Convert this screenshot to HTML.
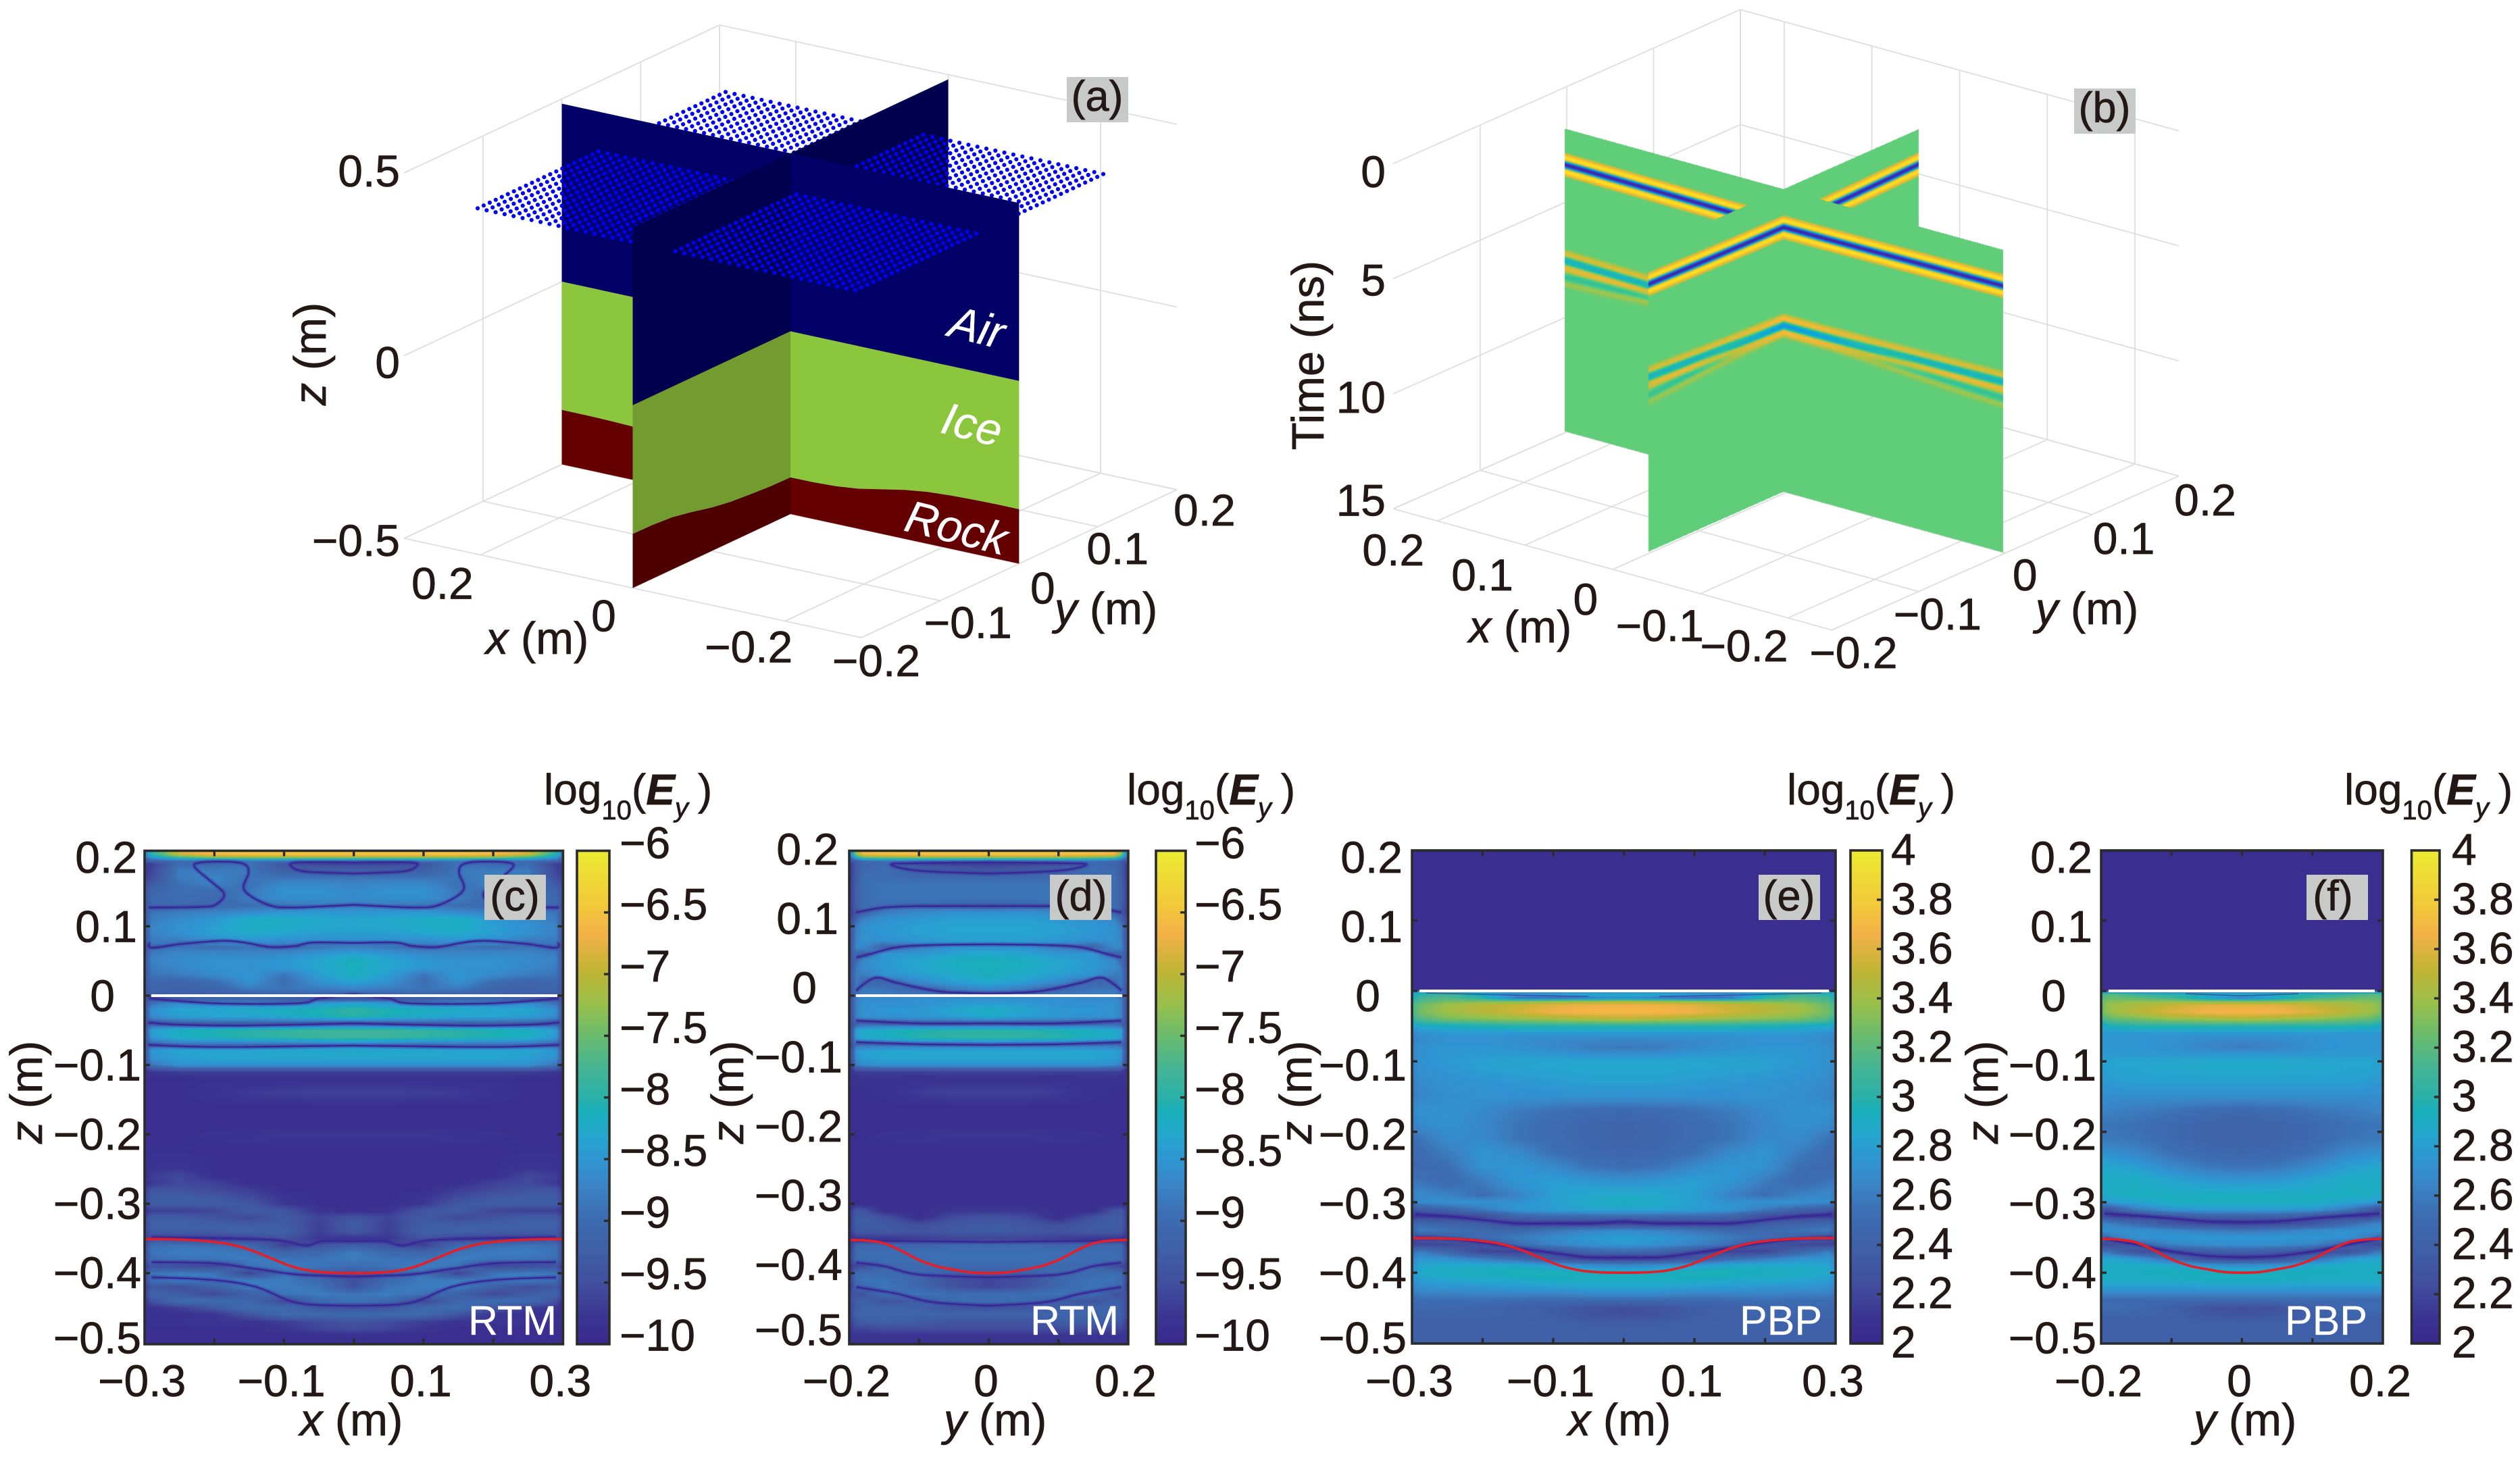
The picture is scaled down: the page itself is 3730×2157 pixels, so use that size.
<!DOCTYPE html>
<html lang="en">
<head>
<meta charset="utf-8">
<title>Radar imaging figure</title>
<style>
html,body{margin:0;padding:0;background:#fff;}
#stage{position:relative;width:3730px;height:2157px;overflow:hidden;background:#fff;}
#stage svg{position:absolute;left:0;top:0;}
#stage canvas{position:absolute;}
text{font-family:"Liberation Sans",Arial,sans-serif;fill:#231815;stroke:#231815;stroke-width:.7px;font-size:66px;}
.ax{font-size:67px;}
.pl{font-size:63px;text-anchor:middle;}
.wt{fill:#fff;stroke:#fff;stroke-width:.3px;font-size:61px;}
.mat{fill:#fff;stroke:#fff;stroke-width:.3px;font-size:67px;font-style:italic;}
.bt{font-size:64px;}
.sub{font-size:40px;}
i,.it{font-style:italic;}
</style>
</head>
<body>
<div id="stage">
<svg id="under" width="3730" height="2157" xmlns="http://www.w3.org/2000/svg">
  <g id="grid-a"></g>
  <g id="grid-b"></g>
</svg>
<canvas id="cv-b"></canvas>
<canvas id="cv-c"></canvas>
<canvas id="cv-d"></canvas>
<canvas id="cv-e"></canvas>
<canvas id="cv-f"></canvas>
<svg id="over" width="3730" height="2157" xmlns="http://www.w3.org/2000/svg">
  <defs id="defs"></defs>
  <g id="a"></g>
  <g>
    <rect x="1579" y="114" width="91" height="67" fill="#c8c9c9"/>
    <text class="pl" x="1624" y="164">(a)</text>
    <text class="mat" transform="translate(1401,497) rotate(14)">Air</text>
    <text class="mat" transform="translate(1390,640) rotate(14)">Ice</text>
    <text class="mat" transform="translate(1336,785) rotate(14)">Rock</text>
    <text class="ax" text-anchor="middle" transform="translate(482,524) rotate(-90)"><tspan class="it">z</tspan> (m)</text>
    <text class="ax" text-anchor="middle" x="795" y="968"><tspan class="it">x</tspan> (m)</text>
    <text class="ax" text-anchor="middle" x="1637" y="924"><tspan class="it">y</tspan> (m)</text>
  </g>
  <g id="b">
    <rect x="3070" y="131" width="91" height="67" fill="#c8c9c9"/>
    <text class="pl" x="3115" y="181">(b)</text>
    <text class="ax" text-anchor="middle" transform="translate(1959,526) rotate(-90)">Time (ns)</text>
    <text class="ax" text-anchor="middle" x="2250" y="951"><tspan class="it">x</tspan> (m)</text>
    <text class="ax" text-anchor="middle" x="3089" y="924"><tspan class="it">y</tspan> (m)</text>
  </g>
  <g id="c"></g>
  <g id="d"></g>
  <g id="e"></g>
  <g id="f"></g>
  <g>
    <rect x="717" y="1295" width="91" height="67" fill="#c8c9c9"/>
    <text class="pl" x="762" y="1348">(c)</text>
    <text class="wt" x="693" y="1976">RTM</text>
    <text class="ax" text-anchor="middle" transform="translate(62,1617) rotate(-90)"><tspan class="it">z</tspan> (m)</text>
    <text class="ax" text-anchor="middle" x="520" y="2125"><tspan class="it">x</tspan> (m)</text>
    <text class="bt" x="805" y="1191">log<tspan class="sub" dy="22">10</tspan><tspan dy="-22">(</tspan><tspan font-weight="bold" font-style="italic">E</tspan><tspan class="sub it" dy="18">y</tspan><tspan dy="-18" dx="14">)</tspan></text>
  </g>
  <g>
    <rect x="1554" y="1295" width="91" height="67" fill="#c8c9c9"/>
    <text class="pl" x="1600" y="1348">(d)</text>
    <text class="wt" x="1525" y="1976">RTM</text>
    <text class="ax" text-anchor="middle" transform="translate(1100,1617) rotate(-90)"><tspan class="it">z</tspan> (m)</text>
    <text class="ax" text-anchor="middle" x="1473" y="2125"><tspan class="it">y</tspan> (m)</text>
    <text class="bt" x="1668" y="1191">log<tspan class="sub" dy="22">10</tspan><tspan dy="-22">(</tspan><tspan font-weight="bold" font-style="italic">E</tspan><tspan class="sub it" dy="18">y</tspan><tspan dy="-18" dx="14">)</tspan></text>
  </g>
  <g>
    <rect x="2603" y="1295" width="91" height="67" fill="#c8c9c9"/>
    <text class="pl" x="2648" y="1348">(e)</text>
    <text class="wt" x="2575" y="1976">PBP</text>
    <text class="ax" text-anchor="middle" transform="translate(1941,1617) rotate(-90)"><tspan class="it">z</tspan> (m)</text>
    <text class="ax" text-anchor="middle" x="2397" y="2125"><tspan class="it">x</tspan> (m)</text>
    <text class="bt" x="2645" y="1191">log<tspan class="sub" dy="22">10</tspan><tspan dy="-22">(</tspan><tspan font-weight="bold" font-style="italic">E</tspan><tspan class="sub it" dy="18">y</tspan><tspan dy="-18" dx="14">)</tspan></text>
  </g>
  <g>
    <rect x="3414" y="1295" width="91" height="67" fill="#c8c9c9"/>
    <text class="pl" x="3453" y="1348">(f)</text>
    <text class="wt" x="3382" y="1976">PBP</text>
    <text class="ax" text-anchor="middle" transform="translate(2957,1617) rotate(-90)"><tspan class="it">z</tspan> (m)</text>
    <text class="ax" text-anchor="middle" x="3323" y="2125"><tspan class="it">y</tspan> (m)</text>
    <text class="bt" x="3470" y="1191">log<tspan class="sub" dy="22">10</tspan><tspan dy="-22">(</tspan><tspan font-weight="bold" font-style="italic">E</tspan><tspan class="sub it" dy="18">y</tspan><tspan dy="-18" dx="14">)</tspan></text>
  </g>
</svg>
</div>
<script>
/* ---------- shared colour scale ---------- */
const colorStops = [0,.055,.12,.18,.265,.32,.373,.42,.47,.5,.556,.62,.69,.76,.83,.89,.99,1];
const colorHexes = ['#39288e','#3b3592','#414e9e','#3f5da6','#3c6eb3','#3a84c6','#2f95d2','#25a5cf','#18aebb','#2ab0a8','#44b596','#66bb70','#9ac04a','#c3b435','#f3b148','#f2c93a','#ece832','#ece832'];
const ampStops = [-100,-75,-45,-15,0,15,40,70,100];
const ampHexes = ['#3f1fa0','#2a62d6','#0fa8dc','#26c0a0','#60cd78','#b9c23c','#efb83a','#fbd024','#fce620'];

/* ---------- rock interface (metres) ---------- */
const rockX = [0,.03,.06,.09,.12,.15,.18,.21,.24,.27,.3];
const rockXZ = [-.4,-.3995,-.397,-.39,-.378,-.366,-.358,-.354,-.352,-.351,-.351];
const rockY = [0,.025,.05,.075,.1,.125,.15,.175,.2];
const rockYZ = [-.4,-.399,-.395,-.39,-.381,-.368,-.357,-.353,-.352];

/* ---------- heatmap rows / columns (field values: percent of colour scale) ---------- */
const zRowsRtm = [.21,.204,.2,.197,.194,.19,.18,.17,.16,.15,.14,.13,.12,.11,.1,.09,.08,.07,.06,.05,.04,.03,.02,.01,.003,-.005,-.01,-.02,-.03,-.04,-.05,-.06,-.07,-.08,-.09,-.1,-.105,-.11,-.12,-.14,-.16,-.19,-.2,-.22,-.25,-.26,-.27,-.28,-.29,-.3,-.31,-.32,-.33,-.34,-.35,-.36,-.37,-.38,-.39,-.4,-.41,-.42,-.43,-.44,-.45,-.46,-.47,-.48,-.49,-.5];
const zRowsPbp = [.21,.001,-.001,-.005,-.01,-.015,-.02,-.03,-.04,-.05,-.06,-.07,-.08,-.09,-.1,-.11,-.13,-.15,-.17,-.19,-.21,-.23,-.25,-.27,-.29,-.3,-.31,-.32,-.33,-.34,-.35,-.36,-.37,-.38,-.39,-.4,-.41,-.42,-.43,-.44,-.45,-.46,-.47,-.5];
const xCols = [0,.05,.1,.15,.2,.25,.29,.3];
const yCols = [0,.05,.1,.15,.18,.19,.195,.2];

const fieldC = [
[87,87,87,87,86,80,50,30],[88,88,88,88,86,78,50,28],[72,72,72,72,70,60,42,25],[50,50,50,50,48,42,30,20],[28,28,28,28,28,26,22,15],
[10,10,15,28,25,25,8,8],[20,20,20,29,30,30,10,6],[28,28,28,28,32,30,12,8],[32,34,34,27,31,27,18,12],[34,36,36,29,25,26,22,14],
[34,35,35,30,24,25,24,14],[30,30,28,26,24,24,22,12],[38,38,38,34,32,30,28,15],[42,43,45,46,38,34,30,15],[42,43,45,46,40,36,32,16],
[40,40,42,44,40,36,32,16],[36,36,36,38,36,30,30,14],[30,28,26,28,26,28,26,10],[42,38,34,33,34,33,30,14],[47,42,38,36,36,34,32,15],
[47,42,38,36,36,33,30,14],[46,40,28,38,34,30,28,14],[42,36,26,36,26,22,24,14],[32,30,28,30,22,20,22,14],[24,24,24,22,20,20,20,12],
[14,14,18,22,22,18,16,10],[40,36,30,34,34,34,26,12],[52,48,46,44,42,42,36,14],[50,47,44,42,42,40,34,14],[22,22,22,22,22,22,20,10],
[54,54,52,50,48,46,40,14],[54,54,52,50,48,46,38,14],[34,30,28,28,28,28,24,10],[44,43,43,42,42,42,38,14],[42,42,42,42,42,40,36,14],
[36,36,36,36,36,36,28,10],[22,22,22,22,22,22,16,7],[8,8,8,8,8,8,6,4],[3,3,3,3,3,3,3,3],[9,9,8,7,5,3,3,3],
[3,3,3,3,3,3,3,3],[3,3,3,3,3,3,3,3],[6,6,6,5,4,3,3,3],[3,3,3,3,3,3,3,3],[3,3,3,3,3,6,5,3],
[3,3,3,3,3,11,8,3],[3,3,3,3,9,11,6,3],[3,3,3,8,11,14,14,6],[3,3,5,11,16,18,18,8],[3,3,6,16,18,18,18,8],
[3,5,15,18,10,8,8,4],[14,10,17,10,14,18,18,8],[18,8,18,18,20,20,20,8],[16,8,20,20,18,18,18,8],[5,6,14,10,8,10,12,6],
[20,14,8,24,26,28,26,10],[30,24,22,28,30,30,28,10],[30,28,28,30,28,28,26,8],[26,28,30,28,10,12,14,6],[16,22,28,8,28,30,28,8],
[12,24,30,30,30,32,26,8],[14,28,30,31,20,12,16,6],[28,30,28,20,10,18,22,6],[28,25,10,22,26,26,14,4],[14,16,24,26,16,8,5,3],
[25,24,24,14,5,4,3,3],[14,12,8,5,6,5,4,3],[12,10,5,3,3,3,3,3],[4,3,3,3,3,3,3,3],[3,3,3,3,3,3,3,3]];

const fieldD = [
[87,87,87,87,86,70,45,25],[88,88,88,87,84,68,42,25],[72,72,72,70,66,50,35,20],[50,50,50,48,44,34,24,14],[28,28,28,28,25,20,15,10],
[8,10,14,24,22,18,10,6],[16,18,20,26,24,18,10,6],[24,24,24,26,26,18,10,6],[28,28,28,28,26,20,12,6],[28,28,28,28,26,20,12,6],
[28,28,28,28,26,20,12,6],[20,22,24,26,26,20,12,6],[36,36,34,30,22,14,10,6],[40,40,38,36,32,24,14,8],[42,42,40,38,36,30,20,8],
[42,42,40,38,36,32,20,8],[40,40,38,36,36,32,20,8],[36,36,30,22,34,34,22,8],[44,42,38,38,22,24,20,8],[47,46,42,38,34,24,18,8],
[47,46,42,38,34,30,20,8],[46,44,40,36,30,30,20,8],[44,40,34,22,24,30,20,8],[34,30,22,28,28,28,18,8],[24,26,28,30,30,26,18,8],
[36,36,36,34,34,30,18,8],[38,38,36,36,36,32,18,8],[46,42,38,38,36,32,18,8],[44,40,38,36,36,32,18,8],[22,22,22,22,22,20,14,8],
[50,50,48,46,44,40,20,8],[52,52,50,46,44,40,20,8],[30,28,28,26,26,24,14,8],[42,42,42,42,40,38,20,8],[42,42,42,42,40,36,18,8],
[36,36,36,36,34,30,14,6],[22,22,22,22,20,18,8,5],[9,9,8,8,8,7,5,4],[4,4,4,4,4,4,4,4],[9,9,7,4,3,3,3,3],
[3,3,3,3,3,3,3,3],[3,3,3,3,3,3,3,3],[6,6,5,4,3,3,3,3],[3,3,3,3,3,3,3,3],[3,3,3,3,3,3,3,3],
[3,3,3,3,3,3,3,3],[3,3,3,3,3,3,3,3],[3,3,3,3,3,3,3,3],[3,3,3,3,3,3,3,3],[3,3,3,3,3,3,3,3],
[6,6,3,3,14,16,10,4],[14,12,3,14,18,18,12,4],[17,16,12,17,18,18,12,4],[17,16,14,16,16,16,10,4],[10,10,8,6,6,6,4,4],
[24,24,22,22,22,22,12,4],[27,27,26,26,26,24,14,5],[27,27,26,26,26,24,14,5],[24,24,24,24,12,10,8,4],[18,20,24,24,26,24,14,4],
[10,12,22,28,28,26,14,4],[10,14,24,28,24,22,12,4],[26,26,28,26,14,14,14,6],[26,25,18,14,20,18,14,8],[14,14,20,22,22,18,14,8],
[22,22,22,22,22,20,14,8],[14,14,18,20,18,16,10,6],[12,12,12,12,10,10,8,5],[5,5,5,5,5,5,5,4],[4,4,4,4,4,4,4,4]];

const fieldE = [
[3,3,3,3,3,3,3,3],[3,3,3,3,3,3,3,3],[30,30,30,30,40,50,40,30],[45,45,40,38,46,55,50,40],[35,30,25,28,50,58,55,45],
[72,70,68,66,65,64,58,50],[82,82,80,76,74,70,62,55],[85,85,83,78,74,70,64,56],[74,72,70,68,66,64,58,50],[50,50,50,50,48,46,44,38],
[38,38,38,38,38,38,36,32],[33,33,34,35,36,36,34,30],[29,30,34,36,38,38,36,32],[36,36,38,39,39,38,36,32],[42,42,42,41,40,39,36,32],
[43,43,42,41,40,38,36,32],[40,40,39,38,37,36,34,30],[36,36,36,36,36,35,33,29],[24,25,27,30,34,36,36,33],[22,23,25,28,33,36,34,30],
[22,23,25,28,34,34,28,26],[23,24,27,34,37,30,25,24],[26,28,34,38,36,26,24,24],[36,38,40,38,30,24,28,28],[44,43,40,32,26,32,34,30],
[46,44,40,36,36,36,34,28],[42,42,40,38,30,22,18,12],[25,25,25,22,12,8,8,6],[8,8,10,10,18,20,24,18],[34,32,28,24,24,28,30,22],
[40,38,34,30,25,20,14,10],[38,36,32,26,14,10,10,8],[25,22,15,8,10,22,30,24],[8,10,14,24,30,36,38,32],[34,36,40,44,44,44,42,34],
[46,46,48,48,46,46,44,36],[46,46,46,44,44,42,40,34],[42,42,40,40,38,38,36,32],[34,34,32,32,32,31,31,28],[24,24,24,25,26,26,26,24],
[12,14,18,20,22,23,24,22],[12,14,18,20,22,22,22,22],[18,18,20,20,20,20,20,20],[20,20,20,20,20,20,20,20]];

const fieldF = [
[3,3,3,3,3,3,3,3],[3,3,3,3,3,3,3,3],[25,25,25,25,30,30,30,30],[50,50,50,55,60,60,58,55],[30,42,55,60,62,62,60,58],
[66,66,68,68,66,66,64,60],[80,80,76,72,70,68,66,60],[85,84,80,74,70,68,66,60],[72,70,68,64,62,60,58,54],[50,50,50,50,48,46,44,42],
[38,38,38,38,38,38,38,38],[33,34,36,38,38,38,38,36],[30,32,36,38,38,38,38,36],[38,38,38,38,38,38,38,38],[43,43,42,42,42,41,41,40],
[44,44,43,42,42,41,41,40],[40,40,40,40,39,38,38,38],[35,35,35,35,35,35,35,35],[24,25,28,30,31,32,32,32],[21,22,24,27,28,28,28,28],
[21,22,24,28,29,29,29,29],[23,24,27,33,35,36,36,36],[28,29,34,40,42,43,43,42],[38,39,42,46,46,46,46,44],[46,46,46,46,46,44,44,42],
[46,46,46,42,40,38,38,36],[40,40,38,30,20,14,14,14],[20,20,16,10,8,12,14,14],[8,10,14,24,30,32,32,32],[28,30,34,36,36,36,36,36],
[38,38,38,36,30,26,24,24],[36,35,32,22,12,10,10,10],[20,18,12,12,22,28,28,28],[10,12,24,38,42,42,42,42],[36,38,44,46,46,46,46,46],
[47,47,47,46,46,46,46,46],[46,46,45,45,45,45,45,45],[40,40,40,40,40,40,40,40],[32,32,32,32,32,32,32,32],[24,24,24,24,24,24,24,24],
[12,14,20,24,25,25,25,25],[14,16,20,22,22,22,22,22],[19,19,19,19,19,19,19,19],[20,20,20,20,20,20,20,20]];

/* ---------- dark null contours: right half, mirrored about the centre ---------- */
const nullLinesC = [
 {u:[0,.08,.09,.07,0],z:[.192,.192,.187,.179,.176]},
 {u:[.294,.217,.197,.186,.204,.228,.22,.178,.156,.151,.157,.123,.088,0],z:[.127,.128,.132,.1465,.164,.185,.192,.193,.189,.177,.152,.131,.127,.131]},
 {u:[.294,.289,.248,.19,.157,.119,.085,.059,0],z:[.0765,.069,.0745,.079,.0765,.07,.0715,.0765,.076]},
 {u:[.294,.2,.08,.05,0],z:[-.004,-.011,-.011,-.004,.002]},
 {u:[0,.15,.25,.295],z:[-.04,-.043,-.042,-.0387]},
 {u:[0,.2,.295],z:[-.072,-.074,-.071]},
 {u:[0,.045,.07,.12,.29],z:[-.354,-.354,-.36,-.352,-.348]},
 {u:[0,.08,.14,.2,.29],z:[-.405,-.402,-.394,-.386,-.384]},
 {u:[0,.08,.14,.2,.29],z:[-.447,-.443,-.42,-.41,-.406]}
];
const nullLinesD = [
 {u:[0,.1,.14,.1,0],z:[.192,.191,.189,.18,.176]},
 {u:[0,.1,.15,.18,.19],z:[.129,.129,.127,.122,.12]},
 {u:[0,.08,.13,.17,.19],z:[.074,.073,.07,.06,.055]},
 {u:[0,.07,.13,.16,.18,.19],z:[.003,.006,.018,.026,.016,.007]},
 {u:[0,.1,.19],z:[-.04,-.04,-.036]},
 {u:[0,.1,.19],z:[-.071,-.07,-.067]},
 {u:[0,.19],z:[-.355,-.353]},
 {u:[0,.1,.15,.19],z:[-.406,-.402,-.39,-.385]},
 {u:[0,.08,.13,.19],z:[-.447,-.442,-.43,-.42]}
];
const nullLinesE = [
 {u:[.05,.15,.28],z:[-.008,-.006,-.003],thin:true},
 {u:[0,.05,.1,.15,.2,.25,.295],z:[-.327,-.33,-.33,-.33,-.325,-.32,-.317]},
 {u:[0,.05,.1,.15,.2,.25,.295],z:[-.378,-.378,-.372,-.365,-.357,-.352,-.35]}
];
const nullLinesF = [
 {u:[0,.08],z:[-.007,-.004],thin:true},
 {u:[0,.05,.1,.15,.195],z:[-.328,-.327,-.323,-.319,-.316]},
 {u:[0,.05,.1,.15,.195],z:[-.378,-.376,-.37,-.36,-.352]}
];

/* ---------- tick values and labels ---------- */
const zTicks = [.2,.1,0,-.1,-.2,-.3,-.4,-.5];
const zTickLabels = ['0.2','0.1','0','\u22120.1','\u22120.2','\u22120.3','\u22120.4','\u22120.5'];
const xTicksWide = [-.2,-.1,0,.1,.2];
const xLabelValuesWide = [-.3,-.1,.1,.3];
const xLabelsWide = ['\u22120.3','\u22120.1','0.1','0.3'];
const xTicksNarrow = [-.1,0,.1];
const xLabelValuesNarrow = [-.2,0,.2];
const xLabelsNarrow = ['\u22120.2','0','0.2'];
const cbarRtmValues = [-6,-6.5,-7,-7.5,-8,-8.5,-9,-9.5,-10];
const cbarRtmLabels = ['\u22126','\u22126.5','\u22127','\u22127.5','\u22128','\u22128.5','\u22129','\u22129.5','\u221210'];
const cbarPbpValues = [4,3.8,3.6,3.4,3.2,3,2.8,2.6,2.4,2.2,2];
const cbarPbpLabels = ['4','3.8','3.6','3.4','3.2','3','2.8','2.6','2.4','2.2','2'];

/* ---------- panel (a) ---------- */
const aXTicks = [.3,.2,0,-.2,-.3];
const aYTicks = [-.2,-.1,0,.1,.2];
const aZTicks = [-.5,0,.5];
const aXLabelValues = [.2,0,-.2];
const aXLabels = ['0.2','0','\u22120.2'];
const aYLabelValues = [-.2,-.1,0,.1,.2];
const aYLabels = ['\u22120.2','\u22120.1','0','0.1','0.2'];
const aZLabelValues = [.5,0,-.5];
const aZLabels = ['0.5','0','\u22120.5'];
const sliceTopZ = .487;
const interfaceAirIceZ = 0;
const antennaHalfX = .2478, antennaHalfY = .1572, antennaZ = .3835, antennaNx = 43, antennaNy = 42;

/* ---------- panel (b) ---------- */
const bXTicks = [.25,.2,.1,0,-.1,-.2,-.25];
const bYTicks = [-.2,-.1,0,.1,.2];
const bTTicks = [0,5,10,15];
const bXLabelValues = [.2,.1,0,-.1,-.2];
const bXLabels = ['0.2','0.1','0','\u22120.1','\u22120.2'];
const bYLabelValues = [-.2,-.1,0,.1,.2];
const bYLabels = ['\u22120.2','\u22120.1','0','0.1','0.2'];
const bTLabelValues = [0,5,10,15];
const bTLabels = ['0','5','10','15'];
const waveletLag = [-.55,-.42,-.32,-.25,-.19,-.13,-.07,0,.07,.13,.19,.25,.32,.42,.55];
const waveletAmp = [0,45,95,80,20,-45,-85,-100,-85,-45,20,80,95,45,0];
const offsetX = [0,.05,.1,.15,.2,.25];
const offsetY = [0,.04,.08,.12,.156];
const directTx = [3.51,3.5,3.48,3.46,3.44,3.42];
const directTy = [3.51,3.49,3.46,3.42,3.38];
const surfaceTx = [7.75,7.74,7.71,7.67,7.63,7.59];
const surfaceTy = [7.75,7.68,7.6,7.5,7.41];
const rockTx = [7.85,7.88,7.98,8.1,8.22,8.3];
const rockTy = [7.85,7.88,7.98,8.1,8.2];
const surfaceGainX = [.42,.4,.36,.33,.31,.3];
const surfaceGainY = [.42,.38,.34,.31,.28];
const rockGainX = [.16,.14,.12,.12,.12,.11];
const rockGainY = [.16,.14,.12,.12,.1];

/* ---------- helpers ---------- */
const NS = 'http://www.w3.org/2000/svg';
function hexRgb(h){return [parseInt(h.slice(1,3),16),parseInt(h.slice(3,5),16),parseInt(h.slice(5,7),16)];}
function buildLut(stops,hexes,lo,hi,n){
  const rgb = hexes.map(hexRgb), lut = new Uint8ClampedArray(3*(n+1));
  for(let i=0;i<=n;i++){
    const v = lo+(hi-lo)*i/n; let k=0;
    while(k<stops.length-2 && v>stops[k+1]) k++;
    const f = Math.max(0,Math.min(1,(v-stops[k])/(stops[k+1]-stops[k])));
    for(let c=0;c<3;c++) lut[3*i+c]=rgb[k][c]+(rgb[k+1][c]-rgb[k][c])*f;
  }
  return lut;
}
const LUT = buildLut(colorStops,colorHexes,0,1,500);
const AMP_LUT = buildLut(ampStops,ampHexes,-100,100,400);
function lerpArr(xs,ys,v){
  if(v<=xs[0]) return ys[0];
  const n=xs.length-1;
  if(v>=xs[n]) return ys[n];
  let k=0; while(v>xs[k+1]) k++;
  return ys[k]+(ys[k+1]-ys[k])*(v-xs[k])/(xs[k+1]-xs[k]);
}
function add(tag,parent){const el=document.createElementNS(NS,tag);parent.appendChild(el);return el;}
function set(el,o){for(const k in o) el.setAttribute(k,o[k]);return el;}
function smooth(pts){
  if(pts.length<3) return 'M'+pts.map(p=>p[0].toFixed(1)+' '+p[1].toFixed(1)).join('L');
  let d='M'+pts[0][0].toFixed(1)+' '+pts[0][1].toFixed(1);
  for(let i=0;i<pts.length-1;i++){
    const p0=pts[Math.max(0,i-1)],p1=pts[i],p2=pts[i+1],p3=pts[Math.min(pts.length-1,i+2)];
    d+='C'+(p1[0]+(p2[0]-p0[0])/6).toFixed(1)+' '+(p1[1]+(p2[1]-p0[1])/6).toFixed(1)+' '+
           (p2[0]-(p3[0]-p1[0])/6).toFixed(1)+' '+(p2[1]-(p3[1]-p1[1])/6).toFixed(1)+' '+
           p2[0].toFixed(1)+' '+p2[1].toFixed(1);
  }
  return d;
}
function placeLabel(parent,label,x,yCenter,anchor){
  const el = add('text',parent);
  set(el,{x:x.toFixed(1),y:(yCenter+23).toFixed(1),'text-anchor':anchor});
  el.textContent = label;
  return el;
}

/* ---------- 2-D heat panels ---------- */
function sizeCanvas(id,L,T,w,h){
  const cv=document.getElementById(id);
  cv.width=w;cv.height=h;cv.style.left=L+'px';cv.style.top=T+'px';
  return cv;
}
function paintField(p,cols,rows,field){
  const L=Math.round(p.L),T=Math.round(p.T),w=Math.round(p.R)-L,h=Math.round(p.B)-T;
  const cv=sizeCanvas('cv-'+p.id,L,T,w,h),ctx=cv.getContext('2d'),img=ctx.createImageData(w,h),D=img.data;
  const rowIdx=new Int32Array(h),rowF=new Float32Array(h),colIdx=new Int32Array(w),colF=new Float32Array(w);
  for(let j=0;j<h;j++){
    const z=p.zInv(T+j+.5);let k=0;
    while(k<rows.length-2 && z<rows[k+1]) k++;
    rowIdx[j]=k;rowF[j]=Math.max(0,Math.min(1,(rows[k]-z)/(rows[k]-rows[k+1])));
  }
  for(let i=0;i<w;i++){
    const u=Math.abs(p.xInv(L+i+.5));let k=0;
    while(k<cols.length-2 && u>cols[k+1]) k++;
    colIdx[i]=k;colF[i]=Math.max(0,Math.min(1,(u-cols[k])/(cols[k+1]-cols[k])));
  }
  for(let j=0;j<h;j++){
    const r0=field[rowIdx[j]],r1=field[rowIdx[j]+1],fr=rowF[j];
    for(let i=0;i<w;i++){
      const c=colIdx[i],fc=colF[i];
      const top=r0[c]+(r0[c+1]-r0[c])*fc,bot=r1[c]+(r1[c+1]-r1[c])*fc;
      const t=Math.max(0,Math.min(500,Math.round((top+(bot-top)*fr)*5)));
      const o=4*(j*w+i);
      D[o]=LUT[3*t];D[o+1]=LUT[3*t+1];D[o+2]=LUT[3*t+2];D[o+3]=255;
    }
  }
  ctx.putImageData(img,0,0);
}
let gradCount=0;
function heatPanel(p){
  const g=document.getElementById(p.id);
  paintField(p,p.cols,p.rows,p.field);

  /* null contours, mirrored */
  p.nulls.forEach(n=>{
    [1,-1].forEach(sign=>{
      const pts=n.u.map((u,i)=>[p.xS(sign*u),p.zS(n.z[i])]);
      if(!n.thin){
        const halo=add('path',g);
        
        
        set(halo,{d:smooth(pts),fill:'none',stroke:'#39288e','stroke-opacity':.28,'stroke-width':p.nullHalo});
      }
      const core=add('path',g);
      
      
      set(core,{d:smooth(pts),fill:'none',stroke:'#38289a','stroke-opacity':n.thin?.6:1,'stroke-width':n.thin?1.6:p.nullCore});
    });
  });

  /* surface line */
  const wl=add('line',g);
  
  
  set(wl,{x1:p.white[0],x2:p.white[1],y1:p.zS(0),y2:p.zS(0),stroke:'#fff','stroke-width':4});

  /* rock line */
  const pts=[];
  for(let i=p.rockU.length-1;i>0;i--) pts.push([p.xS(-p.rockU[i]),p.zS(p.rockZ[i])]);
  for(let i=0;i<p.rockU.length;i++) pts.push([p.xS(p.rockU[i]),p.zS(p.rockZ[i])]);
  const rl=add('path',g);
  
  
  set(rl,{d:smooth(pts),fill:'none',stroke:'#e61e25','stroke-width':3.6});

  /* frame */
  const fr=add('rect',g);
  
  
  set(fr,{x:p.L,y:p.T,width:p.R-p.L,height:p.B-p.T,fill:'none',stroke:'#2b2b2b','stroke-width':3.6});

  /* x ticks */
  p.xTicks.forEach(v=>{
    [[p.T,p.T+8],[p.B,p.B-8]].forEach(e=>{
      const t=add('line',g);
      
      
      set(t,{x1:p.xS(v),x2:p.xS(v),y1:e[0],y2:e[1],stroke:'#2b2b2b','stroke-width':3.4});
    });
  });
  p.xLabelValues.forEach((v,i)=>{
    const t=placeLabel(g,p.xLabels[i],p.xS(v)-4,2044,'middle');
    
    
  });

  /* z ticks */
  zTicks.forEach((v,i)=>{
    if(v>-.5 && v<.2 || (p.tickTop && v===.2)){
      [[p.L,p.L+8],[p.R,p.R-8]].forEach(e=>{
        const t=add('line',g);
        
        
        set(t,{x1:e[0],x2:e[1],y1:p.zS(v),y2:p.zS(v),stroke:'#2b2b2b','stroke-width':3.4});
      });
    }
    const lab=zTickLabels[i];
    const right=p.labelRight+(lab==='0'?p.zeroNudge:(lab[0]==='\u2212'?0:-6));
    const yc=1120+(p.labelTop+(.2-v)*1550)/1.512-(v===-.5?6:0);
    const t=placeLabel(g,lab,right,yc,'end');
    
    
  });

  /* colour bar */
  const gid='cbar-grad-'+(gradCount++);
  const lg=add('linearGradient',document.getElementById('defs'));
  set(lg,{id:gid,x1:0,y1:1,x2:0,y2:0});
  colorStops.forEach((s,i)=>{
    const st=add('stop',lg);
    set(st,{offset:s,'stop-color':colorHexes[i]});
  });
  const cb=add('rect',g);
  
  
  set(cb,{x:p.cbL,y:p.T,width:p.cbR-p.cbL,height:p.B-p.T,fill:'url(#'+gid+')',stroke:'#2b2b2b','stroke-width':3.6});
  const bs=p.cbValues, top=bs[0], bot=bs[bs.length-1];
  bs.forEach((v,i)=>{
    const y=p.T+(top-v)/(top-bot)*(p.B-p.T);
    if(i>0 && i<bs.length-1){
      const t=add('line',g);
      
      
      set(t,{x1:p.cbR,x2:p.cbR-8,y1:y,y2:y,stroke:'#2b2b2b','stroke-width':3.4});
    }
    const yc=p.cbLabelTop+(top-v)/(top-bot)*p.cbLabelSpan;
    const l=placeLabel(g,p.cbLabels[i],p.cbLabelLeft,yc,'start');
    
    
  });
}
function makePanel(o){
  o.xS=u=>o.cx+u*o.xs;
  o.xInv=px=>(px-o.cx)/o.xs;
  o.zS=z=>o.z0-z*o.zs;
  o.zInv=py=>(o.z0-py)/o.zs;
  return o;
}
heatPanel(makePanel({id:'c',L:214,R:833.4,T:1259.5,B:1990,cx:523.7,xs:1032,z0:1474,zs:1027,cols:xCols,rows:zRowsRtm,field:fieldC,nulls:nullLinesC,nullHalo:7,nullCore:2.6,white:[224,825],rockU:rockX,rockZ:rockXZ,xTicks:xTicksWide,xLabelValues:xLabelValuesWide,xLabels:xLabelsWide,labelRight:209,zeroNudge:-39,labelTop:225,cbL:854,cbR:902,cbValues:cbarRtmValues,cbLabels:cbarRtmLabels,cbLabelTop:1247.6,cbLabelSpan:729,cbLabelLeft:917,tickTop:false}));
heatPanel(makePanel({id:'d',L:1257,R:1670,T:1259.5,B:1990,cx:1463.5,xs:1032.5,z0:1474,zs:1027,cols:yCols,rows:zRowsRtm,field:fieldD,nulls:nullLinesD,nullHalo:7,nullCore:2.6,white:[1267,1661],rockU:rockY,rockZ:rockYZ,xTicks:xTicksNarrow,xLabelValues:xLabelValuesNarrow,xLabels:xLabelsNarrow,labelRight:1247,zeroNudge:-38,labelTop:207,cbL:1711,cbR:1755,cbValues:cbarRtmValues,cbLabels:cbarRtmLabels,cbLabelTop:1247.6,cbLabelSpan:729,cbLabelLeft:1768,tickTop:false}));
heatPanel(makePanel({id:'e',L:2090,R:2717,T:1259,B:1989,cx:2403.5,xs:1045,z0:1467,zs:1043,cols:xCols,rows:zRowsPbp,field:fieldE,nulls:nullLinesE,nullHalo:8,nullCore:3,white:[2101,2707],rockU:rockX,rockZ:rockXZ,xTicks:xTicksWide,xLabelValues:xLabelValuesWide,xLabels:xLabelsWide,labelRight:2082,zeroNudge:-39,labelTop:225,cbL:2739,cbR:2786,cbValues:cbarPbpValues,cbLabels:cbarPbpLabels,cbLabelTop:1257.6,cbLabelSpan:729,cbLabelLeft:2799,tickTop:false}));
heatPanel(makePanel({id:'f',L:3110,R:3527,T:1259,B:1989,cx:3318.5,xs:1042.5,z0:1467,zs:1043,cols:yCols,rows:zRowsPbp,field:fieldF,nulls:nullLinesF,nullHalo:8,nullCore:3,white:[3121,3515],rockU:rockY,rockZ:rockYZ,xTicks:xTicksNarrow,xLabelValues:xLabelValuesNarrow,xLabels:xLabelsNarrow,labelRight:3103,zeroNudge:-45,labelTop:225,cbL:3569.5,cbR:3611,cbValues:cbarPbpValues,cbLabels:cbarPbpLabels,cbLabelTop:1257.6,cbLabelSpan:729,cbLabelLeft:3629,tickTop:false}));

/* ---------- panel (a) 3-D ---------- */
const aP=(x,y,z)=>[1170-1128*x+1167.5*y,761-245*x-547.5*y-541*(z+.5)];
function gridLine(parent,a,b){
  const l=add('line',parent);
  
  
  set(l,{x1:a[0],y1:a[1],x2:b[0],y2:b[1],stroke:'#dedede','stroke-width':1.8});
}
(function(){
  const g=document.getElementById('grid-a');
  aXTicks.forEach(x=>{
    gridLine(g,aP(x,-.2,-.5),aP(x,.2,-.5));
    if(Math.abs(x)<.25) gridLine(g,aP(x,.2,-.5),aP(x,.2,.5));
  });
  aYTicks.forEach(y=>{
    gridLine(g,aP(-.3,y,-.5),aP(.3,y,-.5));
    if(y>-.15) gridLine(g,aP(.3,y,-.5),aP(.3,y,.5));
  });
  aZTicks.forEach(z=>{
    gridLine(g,aP(.3,-.2,z),aP(.3,.2,z));
    gridLine(g,aP(.3,.2,z),aP(-.3,.2,z));
  });
})();
function dotsPath(parent,sx,sy){
  let d='';
  for(let i=0;i<antennaNx;i++){
    for(let j=0;j<antennaNy;j++){
      const x=-antennaHalfX+2*antennaHalfX*i/(antennaNx-1), y=-antennaHalfY+2*antennaHalfY*j/(antennaNy-1);
      if(x*sx<0||y*sy<0) continue;
      const p=aP(x,y,antennaZ);
      d+='M'+p[0].toFixed(1)+' '+p[1].toFixed(1)+'h0';
    }
  }
  const el=add('path',parent);
  
  
  set(el,{d:d,fill:'none',stroke:'#0000f8','stroke-width':6.2,'stroke-linecap':'round'});
}
function slicePart(parent,axis,sign,colors){
  const nodes=axis==='x'?rockX:rockY, zs=axis==='x'?rockXZ:rockYZ;
  const end=nodes[nodes.length-1];
  const P=(u,z)=>axis==='x'?aP(sign*u,0,z):aP(0,sign*u,z);
  const toD=pts=>'M'+pts.map(p=>p[0].toFixed(1)+' '+p[1].toFixed(1)).join('L')+'Z';
  const rockCurve=nodes.map((u,i)=>P(u,zs[i]));
  const air=add('path',parent);
  
  
  set(air,{d:toD([P(0,sliceTopZ),P(end,sliceTopZ),P(end,interfaceAirIceZ),P(0,interfaceAirIceZ)]),fill:colors[0]});
  const ice=add('path',parent);
  
  
  set(ice,{d:toD([P(0,interfaceAirIceZ),P(end,interfaceAirIceZ)].concat(rockCurve.slice().reverse())),fill:colors[1]});
  const rock=add('path',parent);
  
  
  set(rock,{d:toD(rockCurve.concat([P(end,-.5),P(0,-.5)])),fill:colors[2]});
}
(function(){
  const g=document.getElementById('a');
  const bright=['#000066','#8cc63c','#640000'], dark=['#00004e','#739c30','#4e0000'];
  dotsPath(g,1,1);
  slicePart(g,'y',1,dark);
  slicePart(g,'x',1,bright);
  dotsPath(g,1,-1);
  dotsPath(g,-1,1);
  slicePart(g,'x',-1,bright);
  slicePart(g,'y',-1,dark);
  dotsPath(g,-1,-1);
  const xN=[[-56,42],[-43,41],[-54,38]];
  aXLabelValues.forEach((v,i)=>{
    const p=aP(v,-.2,-.5);
    const t=placeLabel(g,aXLabels[i],p[0]+xN[i][0],p[1]+xN[i][1],'middle');
    
    
  });
  const yN=[[22,34],[41,32],[35,36],[29,32],[41,30]];
  aYLabelValues.forEach((v,i)=>{
    const p=aP(-.3,v,-.5);
    const t=placeLabel(g,aYLabels[i],p[0]+yN[i][0],p[1]+yN[i][1],'middle');
    
    
  });
  const zN=[-3,10,3];
  aZLabelValues.forEach((v,i)=>{
    const p=aP(.3,-.2,v);
    const t=placeLabel(g,aZLabels[i],592,p[1]+zN[i],'end');
    
    
  });
})();

/* ---------- panel (b) 3-D ---------- */
const bP=(x,y,t)=>[2643.7-1298*x+1284*y,729-359*x-570*y-34.07*(15-t)];
(function(){
  const g=document.getElementById('grid-b');
  bXTicks.forEach(x=>{
    gridLine(g,bP(x,-.2,15),bP(x,.2,15));
    if(Math.abs(x)<.24) gridLine(g,bP(x,.2,15),bP(x,.2,0));
  });
  bYTicks.forEach(y=>{
    gridLine(g,bP(-.25,y,15),bP(.25,y,15));
    if(y>-.15) gridLine(g,bP(.25,y,15),bP(.25,y,0));
  });
  gridLine(g,bP(.25,.2,15),bP(.25,.2,0));
  bTTicks.forEach(t=>{
    gridLine(g,bP(.25,-.2,t),bP(.25,.2,t));
    gridLine(g,bP(.25,.2,t),bP(-.25,.2,t));
  });
  const o=document.getElementById('b');
  const xN=[[-65,43],[-63,44],[-40,44],[-60,47],[-65,41]];
  bXLabelValues.forEach((v,i)=>{
    const p=bP(v,-.2,15);
    const t=placeLabel(o,bXLabels[i],p[0]+xN[i][0],p[1]+xN[i][1],'middle');
    
    
  });
  const yN=[[32,33],[28,33],[29,32],[47,35],[39,35]];
  bYLabelValues.forEach((v,i)=>{
    const p=bP(-.25,v,15);
    const t=placeLabel(o,bYLabels[i],p[0]+yN[i][0],p[1]+yN[i][1],'middle');
    
    
  });
  const tN=[12,2,5,-13];
  bTLabelValues.forEach((v,i)=>{
    const p=bP(.25,-.2,v);
    const t=placeLabel(o,bTLabels[i],2051,p[1]+tN[i],'end');
    
    
  });
})();
(function(){
  const L=2300,T=170,W=680,H=670,cX=2640,cY=728,tTop=1.85,pxPerNs=34.07;
  const cv=sizeCanvas('cv-b',L,T,W,H),ctx=cv.getContext('2d'),img=ctx.createImageData(W,H),D=img.data;
  function amp(t,u,plane){
    const offs=plane==='x'?offsetX:offsetY;
    const t1=lerpArr(offs,plane==='x'?directTx:directTy,u);
    const t2=lerpArr(offs,plane==='x'?surfaceTx:surfaceTy,u);
    const t3=lerpArr(offs,plane==='x'?rockTx:rockTy,u);
    const g2=lerpArr(offs,plane==='x'?surfaceGainX:surfaceGainY,u);
    const g3=lerpArr(offs,plane==='x'?rockGainX:rockGainY,u);
    return lerpArr(waveletLag,waveletAmp,t-t1)+g2*lerpArr(waveletLag,waveletAmp,t-t2)+g3*lerpArr(waveletLag,waveletAmp,t-t3);
  }
  function part(plane,sign){
    const ex=plane==='x'?-1298:1284, ey=plane==='x'?-359:-570, umax=plane==='x'?.25:.156;
    const xa=cX+sign*umax*ex, x0=Math.round(Math.min(cX,xa)), x1=Math.round(Math.max(cX,xa));
    for(let X=x0;X<x1;X++){
      const s=(X+.5-cX)/ex, base=cY+s*ey, u=Math.abs(s);
      const yTop=Math.round(base-(15-tTop)*pxPerNs), yBot=Math.round(base);
      for(let Y=yTop;Y<yBot;Y++){
        const i=X-L,j=Y-T;
        if(i<0||j<0||i>=W||j>=H) continue;
        const t=15-(base-(Y+.5))/pxPerNs;
        const a=Math.max(0,Math.min(400,Math.round((amp(t,u,plane)+100)*2)));
        const o=4*(j*W+i);
        D[o]=AMP_LUT[3*a];D[o+1]=AMP_LUT[3*a+1];D[o+2]=AMP_LUT[3*a+2];D[o+3]=255;
      }
    }
  }
  part('y',1);
  part('x',1);
  part('x',-1);
  part('y',-1);
  ctx.putImageData(img,0,0);
})();
</script>
</body>
</html>
